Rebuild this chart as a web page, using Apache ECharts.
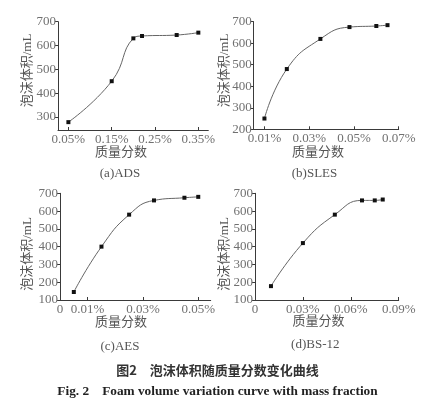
<!DOCTYPE html>
<html>
<head>
<meta charset="utf-8">
<script src="https://cdn.jsdelivr.net/npm/echarts@6/dist/echarts.min.js"></script>
<style>
  html, body { margin: 0; padding: 0; background: #fff; }
  #chart { width: 444px; height: 407px; }
</style>
</head>
<body>
<div id="chart"></div>
<script>
// mass fraction (%) vs foam volume (mL)
const adsX = [0.05, 0.15, 0.20, 0.22, 0.30, 0.35];
const adsY = [278, 450, 630, 640, 644, 654];
const slesX = [0.01, 0.02, 0.035, 0.048, 0.06, 0.065];
const slesY = [250, 480, 620, 675, 680, 684];
const aesX = [0.005, 0.015, 0.025, 0.034, 0.045, 0.05];
const aesY = [145, 400, 580, 660, 675, 680];
const bsX = [0.01, 0.03, 0.05, 0.067, 0.075, 0.08];
const bsY = [178, 420, 580, 660, 660, 665];

const adsTicks = [0.05, 0.15, 0.25, 0.35];
const slesTicks = [0.01, 0.03, 0.05, 0.07];
const aesTicks = [0, 0.01, 0.03, 0.05];
const bsTicks = [0, 0.03, 0.06, 0.09];
const yTicksTop = [300, 400, 500, 600, 700];
const yTicksB = [200, 300, 400, 500, 600, 700];
const yTicksBottom = [100, 200, 300, 400, 500, 600, 700];

const captions = ['(a)ADS', '(b)SLES', '(c)AES', '(d)BS-12'];
const yName = '泡沫体积/mL';
const xName = '质量分数';
const figTitle = '图2　泡沫体积随质量分数变化曲线';
const figTitleEn = 'Fig. 2　Foam volume variation curve with mass fraction';

const FONT = '"Liberation Serif", "Noto Sans CJK SC", serif';
const AXIS = '#3a3a3a';
const LABEL = '#707070';

const pct = v => (v === 0 ? '0' : +v.toFixed(3) + '%');

function xAx(i, min, max, ticks) {
  return {
    type: 'value', gridIndex: i, min: min, max: max,
    axisLine: { show: true, lineStyle: { color: AXIS, width: 1 } },
    axisTick: { show: true, inside: true, length: 3, customValues: ticks, lineStyle: { color: AXIS } },
    axisLabel: {
      customValues: ticks, formatter: pct, margin: 3,
      color: LABEL, fontSize: 13, fontFamily: FONT,
    },
    splitLine: { show: false },
  };
}

function yAx(i, min, max, ticks) {
  return {
    type: 'value', gridIndex: i, min: min, max: max,
    axisLine: { show: true, lineStyle: { color: AXIS, width: 1 } },
    axisTick: { show: true, length: 3, customValues: ticks, lineStyle: { color: AXIS } },
    axisLabel: {
      customValues: ticks, margin: 2,
      color: LABEL, fontSize: 13, fontFamily: FONT,
    },
    splitLine: { show: false },
  };
}

function line(i, xs, ys) {
  return {
    type: 'line', xAxisIndex: i, yAxisIndex: i,
    data: xs.map((x, k) => [x, ys[k]]),
    smooth: 0.5,
    symbol: 'rect',
    symbolSize: 4,
    itemStyle: { color: '#111' },
    lineStyle: { color: '#666', width: 1 },
    animation: false,
  };
}

function txt(x, y, s, opts) {
  return {
    type: 'text', x: x, y: y, rotation: (opts && opts.rot) || 0,
    style: Object.assign({
      text: s, fill: '#555', fontSize: 13, fontFamily: FONT,
      align: 'center', verticalAlign: 'middle',
    }, opts && opts.style),
  };
}

const myChart = echarts.init(document.getElementById('chart'));
myChart.setOption({
  backgroundColor: '#fff',
  animation: false,
  grid: [
    { left: 58, top: 21.7, right: 235.7, bottom: 277 },
    { left: 253.7, top: 21.7, right: 45.3, bottom: 277.7 },
    { left: 60, top: 193.3, right: 233.3, bottom: 107 },
    { left: 255, top: 193.3, right: 45.3, bottom: 107 },
  ],
  xAxis: [
    xAx(0, 0.026, 0.373, adsTicks),
    xAx(1, 0.0052, 0.07, slesTicks),
    xAx(2, 0, 0.0545, aesTicks),
    xAx(3, 0, 0.09, bsTicks),
  ],
  yAxis: [
    yAx(0, 245, 700, yTicksTop),
    yAx(1, 200, 700, yTicksB),
    yAx(2, 100, 700, yTicksBottom),
    yAx(3, 100, 700, yTicksBottom),
  ],
  series: [
    line(0, adsX, adsY),
    line(1, slesX, slesY),
    line(2, aesX, aesY),
    line(3, bsX, bsY),
  ],
  graphic: [
    txt(28, 70.5, yName, { rot: Math.PI / 2 }),
    txt(225, 70.5, yName, { rot: Math.PI / 2 }),
    txt(28, 254, yName, { rot: Math.PI / 2 }),
    txt(225, 254, yName, { rot: Math.PI / 2 }),
    txt(121, 153, xName),
    txt(318, 153, xName),
    txt(121, 322.5, xName),
    txt(318.5, 321.5, xName),
    txt(120, 174, captions[0]),
    txt(314.5, 174, captions[1]),
    txt(120, 346.5, captions[2]),
    txt(315.3, 345, captions[3]),
    txt(217.5, 370, figTitle, { style: { fill: '#333', fontSize: 13, fontWeight: 'bold', fontFamily: '"Noto Sans CJK SC", sans-serif' } }),
    txt(217.5, 392, figTitleEn, { style: { fill: '#222', fontSize: 13.3, fontWeight: 'bold', fontFamily: '"Liberation Serif", serif' } }),
  ],
});
</script>
</body>
</html>
